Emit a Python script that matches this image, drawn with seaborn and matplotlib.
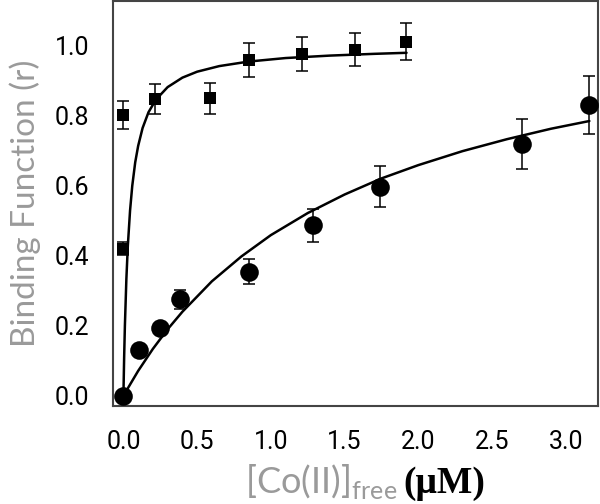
import numpy as np
import pandas as pd
import matplotlib
matplotlib.use("Agg")
import matplotlib.pyplot as plt
import seaborn as sns
from matplotlib.ticker import MultipleLocator, FormatStrFormatter

sq_x = [0.0, 0.0, 0.216, 0.587, 0.849, 1.21, 1.571, 1.917]
sq_y = [0.803, 0.42, 0.849, 0.85, 0.96, 0.977, 0.989, 1.012]
sq_err = [0.04, 0.018, 0.043, 0.044, 0.048, 0.048, 0.048, 0.052]

ci_x = [0.0, 0.106, 0.247, 0.382, 0.849, 1.286, 1.74, 2.70, 3.16]
ci_y = [0.0, 0.131, 0.193, 0.276, 0.355, 0.487, 0.597, 0.719, 0.831]
ci_err = [0.0, 0.0, 0.0, 0.027, 0.036, 0.048, 0.059, 0.072, 0.082]

# fitted curves as drawn in the picture
fit_hi_x = [0.0, 0.005, 0.01, 0.02, 0.03, 0.045, 0.06, 0.08, 0.1, 0.13, 0.17,
            0.22, 0.3, 0.4, 0.5, 0.65, 0.85, 1.1, 1.4, 1.7, 1.92]
fit_hi_y = [0.0, 0.111, 0.2, 0.333, 0.429, 0.529, 0.6, 0.667, 0.714, 0.765, 0.81,
            0.846, 0.882, 0.909, 0.926, 0.942, 0.955, 0.965, 0.972, 0.977, 0.98]
fit_lo_x = [0.0, 0.1, 0.2, 0.3, 0.4, 0.6, 0.8, 1.0, 1.25, 1.5, 1.75, 2.0,
            2.3, 2.6, 2.9, 3.16]
fit_lo_y = [0.0, 0.071, 0.134, 0.19, 0.24, 0.327, 0.398, 0.459, 0.522, 0.575,
            0.621, 0.659, 0.699, 0.733, 0.763, 0.785]

sns.set_style("white")
plt.rcParams['font.family'] = ['Roboto', 'DejaVu Sans']
plt.rcParams['mathtext.fontset'] = 'custom'
plt.rcParams['mathtext.rm'] = 'Lato'

fig = plt.figure(figsize=(6, 5.04), dpi=100)
ax = fig.add_axes([0.188, 0.194, 0.809, 0.804])

sns.lineplot(x=fit_hi_x, y=fit_hi_y, color='black', lw=1.8, ax=ax, sort=False)
sns.lineplot(x=fit_lo_x, y=fit_lo_y, color='black', lw=1.8, ax=ax, sort=False)

ax.errorbar(sq_x, sq_y, yerr=sq_err, fmt='none', ecolor='black', elinewidth=1.1,
            capsize=4.3, capthick=1.1, zorder=3)
ax.errorbar(ci_x, ci_y, yerr=ci_err, fmt='none', ecolor='black', elinewidth=1.1,
            capsize=4.3, capthick=1.1, zorder=3)
sns.scatterplot(x=sq_x, y=sq_y, marker='s', s=65, color='black', linewidth=0,
                ax=ax, zorder=4)
sns.scatterplot(x=ci_x, y=ci_y, marker='o', s=180, color='black', linewidth=0,
                ax=ax, zorder=4)

ax.set_xlim(-0.072, 3.22)
ax.set_ylim(-0.03, 1.128)
ax.xaxis.set_major_locator(MultipleLocator(0.5))
ax.xaxis.set_minor_locator(MultipleLocator(0.1))
ax.yaxis.set_major_locator(MultipleLocator(0.2))
ax.yaxis.set_minor_locator(MultipleLocator(0.05))
ax.xaxis.set_major_formatter(FormatStrFormatter('%.1f'))
ax.yaxis.set_major_formatter(FormatStrFormatter('%.1f'))
ax.tick_params(axis='both', which='major', direction='out', length=12, width=1.2,
               color='#333333', labelsize=18, labelcolor='black', pad=5)
ax.tick_params(axis='y', which='minor', direction='out', length=5, width=1.2,
               color='#333333')
ax.tick_params(axis='x', which='minor', direction='out', length=7, width=1.2,
               color='#333333')
ax.tick_params(top=False, right=False, which='both')
for sp in ax.spines.values():
    sp.set_color('#444444')
    sp.set_linewidth(1.5)

ax.set_ylabel('Binding Function (r)', fontsize=24, color='#9a9a9a', labelpad=10,
              family='Lato')

fig.text(0.662, 0.022, r'[Co(II)]$_{\mathrm{free}}$', fontsize=26, color='#9a9a9a',
         ha='right', va='baseline', family='Lato')
fig.text(0.672, 0.022, '(μM)', fontsize=27, color='black', ha='left', va='baseline',
         family='Liberation Serif', weight='bold')

fig.savefig('out.png', dpi=100)
